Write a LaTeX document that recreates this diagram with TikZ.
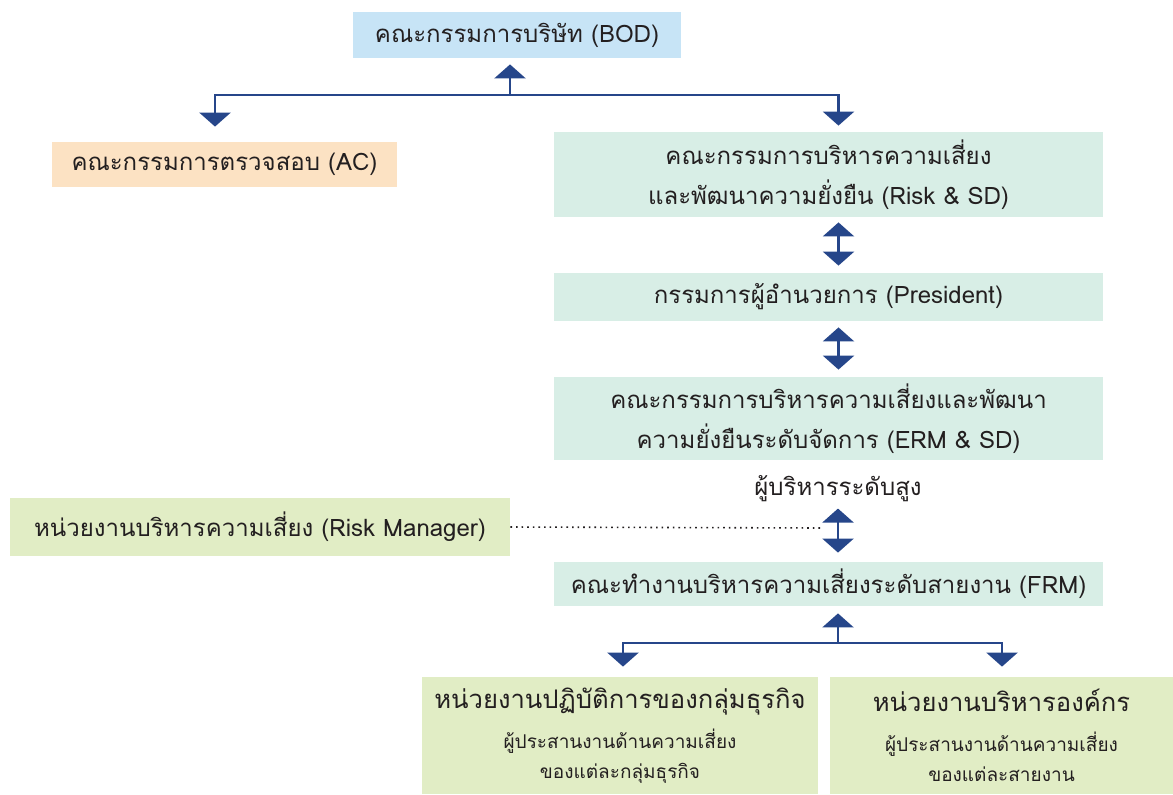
\documentclass[tikz,border=0pt]{standalone}
\usepackage{fontspec}
\setmainfont{Loma}[Script=Thai]
\usepackage{tikz}
\usetikzlibrary{positioning,calc,arrows.meta}

\definecolor{bodblue}{HTML}{C7E4F6}
\definecolor{acpeach}{HTML}{FCE2C3}
\definecolor{mintbox}{HTML}{D8EEE6}
\definecolor{limebox}{HTML}{E1EDC5}
\definecolor{linkblue}{HTML}{26468A}
\definecolor{inkgray}{HTML}{231F20}

\tikzset{
  orgbox/.style={rectangle, inner sep=0pt, align=center, text=inkgray,
    font=\fontsize{12}{20}\selectfont},
  unitbox/.style={orgbox, fill=limebox, minimum height=58.5pt,
    font=\fontsize{9.5}{15}\selectfont},
  link/.style={draw=linkblue, line width=1.25pt},
  headdown/.style={-{Triangle[width=15.5pt,length=7pt]}},
  headboth/.style={{Triangle[width=15.5pt,length=7pt]}-{Triangle[width=15.5pt,length=7pt]}},
  dotlink/.style={draw=inkgray, line width=0.8pt, dotted},
}

\begin{document}
\begin{tikzpicture}[x=0.5pt,y=-0.5pt]
    \path[use as bounding box] (0,0) rectangle (1173,794);
    % Boxes
    \node[orgbox, fill=bodblue, minimum width=164pt, minimum height=23pt] (bod) at (517,35) {คณะกรรมการบริษัท (BOD)};
    \node[orgbox, fill=acpeach, minimum width=172.5pt, minimum height=22.5pt] (ac) at (224.5,164.5) {คณะกรรมการตรวจสอบ (AC)};
    \node[orgbox, fill=mintbox, minimum width=274.5pt, minimum height=42.5pt] (risksd) at (828.5,174.5) {คณะกรรมการบริหารความเสี่ยง\\และพัฒนาความยั่งยืน (Risk \& SD)};
    \node[orgbox, fill=mintbox, minimum width=274.5pt, minimum height=24pt] (pres) at (828.5,297) {กรรมการผู้อำนวยการ (President)};
    \node[orgbox, fill=mintbox, minimum width=274.5pt, minimum height=41.5pt] (ermsd) at (828.5,418.5) {คณะกรรมการบริหารความเสี่ยงและพัฒนา\\ความยั่งยืนระดับจัดการ (ERM \& SD)};
    \node[orgbox, inner sep=2pt] (senior) at (838,489) {ผู้บริหารระดับสูง};
    \node[orgbox, fill=limebox, minimum width=250pt, minimum height=29pt] (riskmgr) at (260,527) {หน่วยงานบริหารความเสี่ยง (Risk Manager)};
    \node[orgbox, fill=mintbox, minimum width=274.5pt, minimum height=22pt] (frm) at (828.5,584) {คณะทำงานบริหารความเสี่ยงระดับสายงาน (FRM)};
    \node[unitbox, minimum width=198pt] (bizunit) at (620,735.5) {{\fontsize{12.8}{15}\selectfont หน่วยงานปฏิบัติการของกลุ่มธุรกิจ}\\[5pt]ผู้ประสานงานด้านความเสี่ยง\\ของแต่ละกลุ่มธุรกิจ};
    \node[unitbox, minimum width=171.5pt] (corpunit) at (1001.5,735.5) {{\fontsize{12.8}{15}\selectfont หน่วยงานบริหารองค์กร}\\[5pt]ผู้ประสานงานด้านความเสี่ยง\\ของแต่ละสายงาน};
    % Top fork
    \coordinate (bodhub) at (510,95);
    \draw[link, headdown, shorten >=3pt] (bodhub) -- (bodhub |- bod.south);
    \draw[link, headdown, shorten >=7.5pt] (bodhub) -| ([xshift=-4.75pt]ac.north);
    \draw[link, headdown, shorten >=3pt] (bodhub) -| ([xshift=5pt]risksd.north);
    % Chain
    \draw[link, headboth, shorten <=2.5pt, shorten >=3.5pt] ([xshift=5pt]risksd.south) -- ([xshift=5pt]pres.north);
    \draw[link, headboth, shorten <=3pt, shorten >=3.5pt] ([xshift=5pt]pres.south) -- ([xshift=5pt]ermsd.north);
    \draw[link, headboth, shorten <=1pt, shorten >=4.5pt] (senior.south) -- (senior.south |- frm.north);
    \coordinate (dotend) at (822,528);
    \draw[dotlink] (riskmgr.east) -- (dotend);
    % Bottom fork
    \coordinate (frmhub) at (838,643);
    \draw[link, headdown, shorten >=3.5pt] (frmhub) -- (frmhub |- frm.south);
    \draw[link, headdown, shorten >=5pt] (frmhub) -| ([xshift=1.5pt]bizunit.north);
    \draw[link, headdown, shorten >=5pt] (frmhub) -| ([xshift=0.25pt]corpunit.north);
\end{tikzpicture}
\end{document}
